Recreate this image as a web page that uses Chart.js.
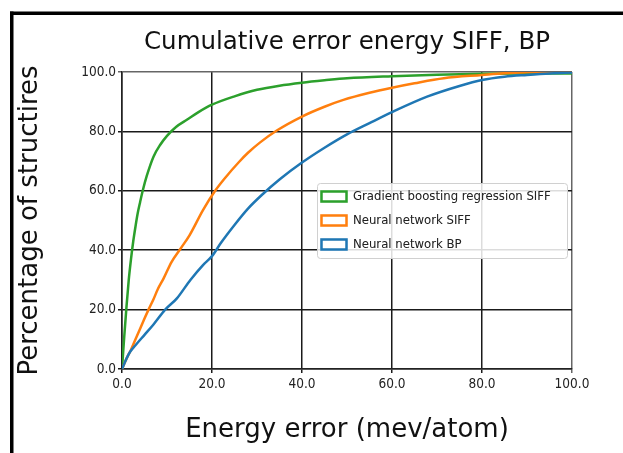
<!DOCTYPE html>
<html>
<head>
<meta charset="utf-8">
<script src="https://cdn.jsdelivr.net/npm/chart.js@4.4.1/dist/chart.umd.min.js"></script>
<style>
  html, body { margin: 0; padding: 0; background: #fff; }
  #wrap { width: 623px; height: 453px; }
</style>
</head>
<body>
<div id="wrap"><canvas id="chart"></canvas></div>
<script>
// tick positions for both axes
const xTicks = [0, 20, 40, 60, 80, 100];
const yTicks = [0, 20, 40, 60, 80, 100];

const seriesNames = ['Gradient boosting regression SIFF', 'Neural network SIFF', 'Neural network BP'];
const seriesColors = ['#2ca02c', '#ff7f0e', '#1f77b4'];

// Gradient boosting regression SIFF (energy error, % of structures)
const gbErr = [0, 0.5, 1, 1.5, 2, 2.5, 3, 3.5, 4, 4.6, 5.5, 7, 8.5, 10, 12, 14.5, 17, 20, 25, 30, 35, 40, 45, 50, 60, 70, 80, 90, 100];
const gbPct = [0, 11, 21, 30, 37, 43, 48, 52.5, 56, 60, 65, 71.5, 75.5, 78.5, 81.5, 84, 86.5, 89, 91.8, 94, 95.4, 96.4, 97.2, 97.9, 98.6, 99.1, 99.4, 99.5, 99.5];

// Neural network SIFF
const nnSiffErr = [0, 1, 2, 3, 4, 5, 5.9, 7, 8, 9.25, 11, 13, 15, 18, 20.7, 23, 26, 28, 30.7, 34.4, 40, 45, 49.2, 55, 60, 65, 71.5, 80, 85, 90, 95, 100];
const nnSiffPct = [0, 3.5, 6.5, 10, 13.5, 17, 20, 23.5, 27, 30.5, 36, 40.5, 45, 53.5, 60, 64.5, 69.7, 72.8, 76.3, 80.3, 85, 88.3, 90.6, 93, 94.7, 96.2, 97.9, 99, 99.6, 99.9, 100, 100];

// Neural network BP
const nnBpErr = [0, 1, 1.8, 3, 5, 7, 9.6, 12.2, 15.2, 18, 20, 22, 25, 28, 31, 35, 40, 45, 50, 55, 60, 67.8, 75, 80, 85, 90, 95, 100];
const nnBpPct = [0, 3.5, 5.8, 8, 11.5, 15, 20, 23.8, 30, 35, 38, 42.5, 48.5, 54, 58.5, 63.8, 69.5, 74.5, 79, 82.8, 86.5, 91.7, 95.3, 97.3, 98.4, 99, 99.5, 99.8];

const condensed = "'DejaVu Sans Condensed', 'DejaVu Sans', sans-serif";
const regular = "'DejaVu Sans', sans-serif";

function toPoints(xs, ys) {
    return xs.map((x, i) => ({ x: x, y: ys[i] }));
}

function makeSet(idx, xs, ys, order) {
    return {
        label: seriesNames[idx],
        data: toPoints(xs, ys),
        borderColor: seriesColors[idx],
        backgroundColor: '#ffffff',
        borderWidth: 2.5,
        pointRadius: 0,
        cubicInterpolationMode: 'monotone',
        fill: false,
        order: order
    };
}

// border lines, legend frame and legend placement
const framePlugin = {
    id: 'frame',
    beforeDraw(chart) {
        const ctx = chart.ctx;
        ctx.save();
        ctx.fillStyle = '#ffffff';
        ctx.fillRect(0, 0, chart.width, chart.height);
        ctx.restore();
    },
    afterLayout(chart) {
        const lg = chart.legend;
        if (!lg) return;
        lg.left = 310.5;
        lg.right = chart.chartArea.right;
        lg.top = chart.chartArea.top;
        lg.bottom = chart.chartArea.bottom;
    },
    afterDatasetsDraw(chart) {
        const ctx = chart.ctx;
        ctx.save();
        ctx.beginPath();
        ctx.roundRect(317.5, 183.5, 250, 75, 3);
        ctx.fillStyle = 'rgba(255,255,255,0.85)';
        ctx.fill();
        ctx.strokeStyle = '#d0d0d0';
        ctx.lineWidth = 1;
        ctx.stroke();
        ctx.restore();
        chart.legend.draw();
    },
    afterDraw(chart) {
        const ctx = chart.ctx;
        ctx.save();
        ctx.fillStyle = '#000000';
        ctx.fillRect(10, 11.5, chart.width - 10, 3.5);
        ctx.fillRect(10, 11.5, 3.5, chart.height - 11.5);
        ctx.restore();
    }
};

const gridColor = c => (c.tick && c.tick.value === 100 ? '#666666' : '#1a1a1a');

new Chart(document.getElementById('chart'), {
    type: 'line',
    data: {
        datasets: [
            makeSet(0, gbErr, gbPct, 3),
            makeSet(1, nnSiffErr, nnSiffPct, 2),
            makeSet(2, nnBpErr, nnBpPct, 1)
        ]
    },
    options: {
        responsive: true,
        maintainAspectRatio: false,
        animation: false,
        layout: { padding: { left: 15, right: 51, top: 14, bottom: 0 } },
        plugins: {
            title: {
                display: true,
                text: 'Cumulative error energy SIFF, BP',
                fullSize: false,
                color: '#111',
                font: { family: regular, size: 24.5, weight: 'normal' },
                padding: { top: 14.3, bottom: 14.3 }
            },
            legend: {
                display: true,
                position: 'chartArea',
                align: 'center',
                labels: {
                    boxWidth: 25,
                    boxHeight: 10,
                    padding: 11,
                    color: '#222',
                    font: { family: condensed, size: 13 },
                    sort: (a, b) => a.datasetIndex - b.datasetIndex
                }
            },
            tooltip: { enabled: false }
        },
        scales: {
            x: {
                type: 'linear',
                min: 0,
                max: 100,
                afterBuildTicks: s => { s.ticks = xTicks.map(v => ({ value: v })); },
                afterFit: s => { s.height = 84; },
                grid: { color: gridColor, lineWidth: 1.5, tickLength: 4 },
                border: { color: '#222', width: 1.5 },
                ticks: {
                    padding: 3,
                    color: '#222',
                    maxRotation: 0,
                    font: { family: condensed, size: 13.5 },
                    callback: v => v.toFixed(1)
                },
                title: {
                    display: true,
                    text: 'Energy error (mev/atom)',
                    color: '#111',
                    font: { family: regular, size: 26 },
                    padding: { top: 0, bottom: 7.4 }
                }
            },
            y: {
                min: 0,
                max: 100,
                afterBuildTicks: s => { s.ticks = yTicks.map(v => ({ value: v })); },
                afterFit: s => { s.width = 107; },
                grid: { color: gridColor, lineWidth: 1.5, tickLength: 4 },
                border: { color: '#222', width: 1.5 },
                ticks: {
                    padding: 2,
                    color: '#222',
                    font: { family: condensed, size: 13.5 },
                    callback: v => v.toFixed(1)
                },
                title: {
                    display: true,
                    text: 'Percentage of structires',
                    color: '#111',
                    font: { family: regular, size: 26 },
                    padding: { top: 0, bottom: 0 }
                }
            }
        }
    },
    plugins: [framePlugin]
});
</script>
</body>
</html>
